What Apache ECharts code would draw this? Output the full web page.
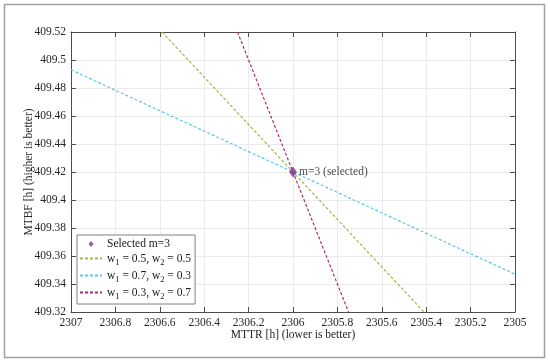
<!DOCTYPE html>
<html>
<head>
<meta charset="utf-8">
<script src="https://cdn.jsdelivr.net/npm/echarts@6/dist/echarts.min.js"></script>
<style>html,body{margin:0;padding:0;background:#fff}#c{width:550px;height:363px}</style>
</head>
<body>
<div id="c"></div>
<script>
// Data
const selectedPoint = [2306.0, 409.42];
const lineEqualX = [2306.59, 2305.41];
const lineEqualY = [409.52, 409.32];
const lineMttrX = [2307.0, 2305.0];
const lineMttrY = [409.493, 409.347];
const lineMtbfX = [2306.25, 2305.75];
const lineMtbfY = [409.52, 409.32];
const seriesNames = ['Selected m=3', 'w1 = 0.5, w2 = 0.5', 'w1 = 0.7, w2 = 0.3', 'w1 = 0.3, w2 = 0.7'];
const legendRich = {
  'Selected m=3': '{n|Selected m=3}',
  'w1 = 0.5, w2 = 0.5': '{n|w}{s|1}{n| = 0.5, w}{s|2}{n| = 0.5}',
  'w1 = 0.7, w2 = 0.3': '{n|w}{s|1}{n| = 0.7, w}{s|2}{n| = 0.3}',
  'w1 = 0.3, w2 = 0.7': '{n|w}{s|1}{n| = 0.3, w}{s|2}{n| = 0.7}'
};
const xMin = 2305, xMax = 2307, xStep = 0.2;
const yMin = 409.32, yMax = 409.52, yStep = 0.02;

const font = 'Liberation Serif';
const fs = 11.5;
const pts = (xs, ys) => xs.map((x, i) => [x, ys[i]]);
const chart = echarts.init(document.getElementById('c'), null, {renderer: 'canvas'});
const axisCol = '#4d4d4d';
const txt = '#262626';
chart.setOption({
  animation: false,
  backgroundColor: '#fff',
  graphic: [{type: 'rect', shape: {x: 4.5, y: 4.5, width: 540, height: 353}, style: {fill: 'none', stroke: '#a0a0a0', lineWidth: 1.5}, silent: true, z: -1}],
  grid: {left: 71, right: 35, top: 32, bottom: 51, containLabel: false},
  xAxis: [{
    type: 'value', inverse: true, min: xMin, max: xMax, interval: xStep,
    name: 'MTTR [h] (lower is better)', nameLocation: 'middle', nameGap: 17, nameMoveOverlap: false,
    nameTextStyle: {fontFamily: font, fontSize: fs, color: txt},
    axisLine: {lineStyle: {color: axisCol, width: 1}},
    axisTick: {inside: true, length: 5, lineStyle: {color: axisCol}},
    axisLabel: {fontFamily: font, fontSize: fs, color: txt, margin: 5, formatter: v => String(+v.toFixed(1))},
    splitLine: {show: true, lineStyle: {color: '#ebebeb', width: 1}}
  }, {
    type: 'value', inverse: true, position: 'top', min: xMin, max: xMax, interval: xStep,
    axisLine: {show: true, onZero: false, lineStyle: {color: axisCol, width: 1}},
    axisTick: {inside: true, length: 5, lineStyle: {color: axisCol}},
    axisLabel: {show: false}, splitLine: {show: false}
  }],
  yAxis: [{
    type: 'value', min: yMin, max: yMax, interval: yStep,
    name: 'MTBF [h] (higher is better)', nameLocation: 'middle', nameGap: 36, nameMoveOverlap: false,
    nameTextStyle: {fontFamily: font, fontSize: fs, color: txt},
    axisLine: {show: true, lineStyle: {color: axisCol, width: 1}},
    axisTick: {show: true, inside: true, length: 5, lineStyle: {color: axisCol}},
    axisLabel: {fontFamily: font, fontSize: fs, color: txt, margin: 5, formatter: v => String(+v.toFixed(2))},
    splitLine: {show: true, lineStyle: {color: '#ebebeb', width: 1}}
  }, {
    type: 'value', position: 'right', min: yMin, max: yMax, interval: yStep,
    axisLine: {show: true, onZero: false, lineStyle: {color: axisCol, width: 1}},
    axisTick: {show: true, inside: true, length: 5, lineStyle: {color: axisCol}},
    axisLabel: {show: false}, splitLine: {show: false}
  }],
  legend: {
    orient: 'vertical', left: 77, top: 235, itemGap: 0, itemWidth: 22, itemHeight: 12,
    padding: [3, 4, 3, 2],
    backgroundColor: '#fff', borderColor: '#808080', borderWidth: 1, borderRadius: 0,
    data: [
      {name: seriesNames[0], icon: 'path://M0,0 M22,12 M11,3 L13.5,6 L11,9 L8.5,6 Z'},
      {name: seriesNames[1], itemStyle: {opacity: 0}},
      {name: seriesNames[2], itemStyle: {opacity: 0}},
      {name: seriesNames[3], itemStyle: {opacity: 0}}
    ],
    formatter: name => legendRich[name],
    textStyle: {
      fontFamily: font, fontSize: fs, color: '#1a1a1a',
      rich: {
        n: {fontFamily: font, fontSize: fs, color: '#1a1a1a', lineHeight: 17},
        s: {fontFamily: font, fontSize: 8.5, color: '#1a1a1a', lineHeight: 17, padding: [8, 0, 0, 0]}
      }
    }
  },
  series: [{
    name: seriesNames[1], type: 'line', data: pts(lineEqualX, lineEqualY), symbol: 'none',
    lineStyle: {color: '#a2b84c', width: 1.2, type: [3, 2]}, itemStyle: {color: '#a2b84c'}, z: 2
  }, {
    name: seriesNames[2], type: 'line', data: pts(lineMttrX, lineMttrY), symbol: 'none',
    lineStyle: {color: '#5cc6ea', width: 1.2, type: [3, 2]}, itemStyle: {color: '#5cc6ea'}, z: 2
  }, {
    name: seriesNames[3], type: 'line', data: pts(lineMtbfX, lineMtbfY), symbol: 'none',
    lineStyle: {color: '#a8306f', width: 1.2, type: [3, 2]}, itemStyle: {color: '#a8306f'}, z: 2
  }, {
    name: seriesNames[0], type: 'scatter', data: [selectedPoint], symbol: 'diamond', symbolSize: [8, 11],
    itemStyle: {color: '#7e2f8e'}, z: 5,
    label: {show: true, position: 'right', distance: 2, formatter: 'm=3 (selected)', fontFamily: font, fontSize: fs, color: '#1a1a1a'}
  }]
});
</script>
</body>
</html>
